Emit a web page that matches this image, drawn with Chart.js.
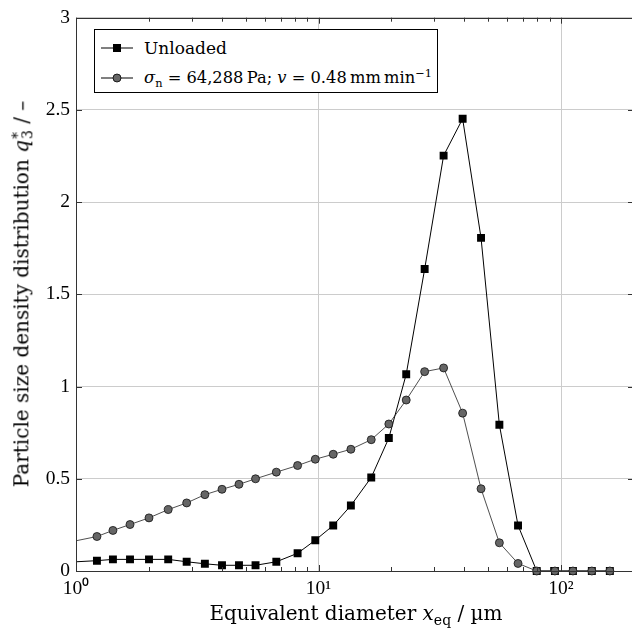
<!DOCTYPE html>
<html>
<head>
<meta charset="utf-8">
<script src="https://cdn.jsdelivr.net/npm/chart.js@4/dist/chart.umd.min.js"></script>
<style>
  body { margin: 0; background: #fff; }
  #wrap { position: relative; width: 632px; height: 632px; overflow: hidden; font-family: "DejaVu Serif", serif; color: #000; }
  #myChart { position: absolute; left: 0; top: 0; }
  .ttl { position: absolute; font-size: 20px; white-space: nowrap; line-height: 1; }
  #xtitle { left: 356px; top: 613px; transform: translate(-50%, -50%); }
  #ytitle { left: 22px; top: 294px; transform: translate(-50%, -50%) rotate(-90deg); }
  .ss { display: inline-block; vertical-align: middle; line-height: 0.7; font-size: 0.7em; margin-left: 1px; text-align: left; }
  .ss span { display: block; }
  sub, sup { font-size: 0.7em; line-height: 0; }
  #legend { position: absolute; left: 94px; top: 29px; width: 342px; height: 62px; border: 1px solid #000; background: #fff; font-size: 17px; }
  .row { position: absolute; left: 0; height: 24px; white-space: nowrap; line-height: 24px; }
  .row svg { position: absolute; left: 5px; top: 6px; }
  .row span.t { position: absolute; left: 49px; top: 0; }
  .row span.t2 { font-size: 16.3px; }
</style>
</head>
<body>
<div id="wrap">
  <canvas id="myChart" width="640" height="632"></canvas>
  <div id="legend">
    <div class="row" style="top:6px">
      <svg width="34" height="12"><line x1="1" y1="6" x2="33" y2="6" stroke="#000" stroke-width="1"/><rect x="13" y="2" width="8" height="8" fill="#000"/></svg>
      <span class="t">Unloaded</span>
    </div>
    <div class="row" style="top:36px">
      <svg width="34" height="12"><line x1="1" y1="6" x2="33" y2="6" stroke="#000" stroke-width="1"/><circle cx="17" cy="6" r="4" fill="#666" stroke="#000" stroke-width="0.8"/></svg>
      <span class="t t2"><i>σ</i><sub>n</sub> = 64,288&thinsp;Pa; <i>v</i> = 0.48&thinsp;mm&thinsp;min<sup>−1</sup></span>
    </div>
  </div>
  <div id="xtitle" class="ttl">Equivalent diameter <i>x</i><sub>eq</sub> / µm</div>
  <div id="ytitle" class="ttl">Particle size density distribution <i>q</i><span class="ss"><span>*</span><span>3</span></span> / –</div>
</div>
<script>
const diameters = [0.85, 1.22, 1.42, 1.67, 2.0, 2.4, 2.86, 3.4, 4.0, 4.7, 5.5, 6.7, 8.2, 9.7, 11.5, 13.6, 16.5, 19.5, 23.0, 27.4, 32.8, 39.3, 46.8, 55.7, 66.5, 79.4, 94.4, 112, 134, 159];
const unloaded = [0.045, 0.056, 0.063, 0.063, 0.063, 0.063, 0.05, 0.039, 0.031, 0.031, 0.031, 0.05, 0.096, 0.167, 0.247, 0.355, 0.507, 0.721, 1.067, 1.637, 2.252, 2.452, 1.806, 0.793, 0.247, 0, 0, 0, 0, 0];
const loaded = [0.145, 0.187, 0.22, 0.252, 0.288, 0.333, 0.369, 0.414, 0.443, 0.47, 0.5, 0.536, 0.572, 0.606, 0.633, 0.66, 0.712, 0.797, 0.927, 1.081, 1.101, 0.856, 0.446, 0.153, 0.041, 0, 0, 0, 0, 0];
const xTicks = [1, 2, 3, 4, 5, 6, 7, 8, 9, 10, 20, 30, 40, 50, 60, 70, 80, 90, 100, 200];
const xMajor = { 1: '10\u2070', 10: '10\u00b9', 100: '10\u00b2' };
const yTicks = [0, 0.5, 1, 1.5, 2, 2.5, 3];

const tickFont = { family: '"Liberation Serif", serif', size: 19.5 };

// frame + inward tick marks like pgfplots
const framePlugin = {
  id: 'frame',
  afterDraw(chart) {
    const { ctx, chartArea: a, scales } = chart;
    ctx.save();
    ctx.strokeStyle = '#333';
    ctx.lineWidth = 1;
    ctx.beginPath();
    xTicks.forEach(v => {
      const px = Math.round(scales.x.getPixelForValue(v)) + 0.5;
      const len = xMajor[v] ? 6 : 4;
      ctx.moveTo(px, a.bottom); ctx.lineTo(px, a.bottom - len);
      ctx.moveTo(px, a.top); ctx.lineTo(px, a.top + len);
    });
    yTicks.forEach(v => {
      const py = Math.round(scales.y.getPixelForValue(v)) + 0.5;
      ctx.moveTo(a.left, py); ctx.lineTo(a.left + 6, py);
      ctx.moveTo(a.right, py); ctx.lineTo(a.right - 6, py);
    });
    ctx.stroke();
    ctx.strokeRect(Math.round(a.left) + 0.5, Math.round(a.top) + 0.5, Math.round(a.right - a.left), Math.round(a.bottom - a.top));
    ctx.restore();
  }
};

const myChart = new Chart(document.getElementById('myChart'), {
  type: 'scatter',
  data: {
    datasets: [{
      label: 'Unloaded',
      data: diameters.map((d, i) => ({ x: d, y: unloaded[i] })),
      showLine: true,
      borderColor: '#000',
      borderWidth: 1,
      pointStyle: 'rect',
      pointRadius: 5.6,
      pointBackgroundColor: '#000',
      pointBorderColor: '#000',
      pointBorderWidth: 0,
      clip: { left: 0, right: 10, top: 10, bottom: 10 },
      order: 2
    }, {
      label: 'σn = 64,288 Pa; v = 0.48 mm min−1',
      data: diameters.map((d, i) => ({ x: d, y: loaded[i] })),
      showLine: true,
      borderColor: '#222',
      borderWidth: 0.8,
      pointStyle: 'circle',
      pointRadius: 4,
      pointBackgroundColor: '#666',
      pointBorderColor: '#111',
      pointBorderWidth: 0.8,
      clip: { left: 0, right: 10, top: 10, bottom: 10 },
      order: 1
    }]
  },
  options: {
    responsive: false,
    animation: false,
    layout: { padding: { top: 15, right: 6, left: 0, bottom: 0 } },
    plugins: { legend: { display: false }, tooltip: { enabled: false } },
    scales: {
      x: {
        type: 'logarithmic',
        min: 1,
        max: 200,
        afterBuildTicks: s => { s.ticks = xTicks.map(v => ({ value: v })); },
        afterFit: s => { s.height = 61; },
        ticks: {
          autoSkip: false,
          maxRotation: 0,
          padding: 6,
          color: '#000',
          font: tickFont,
          callback: v => xMajor[v] || ''
        },
        grid: {
          drawTicks: false,
          color: c => (c.tick && xMajor[c.tick.value]) ? '#cccccc' : 'rgba(0,0,0,0)'
        },
        border: { display: false }
      },
      y: {
        min: 0,
        max: 3,
        afterBuildTicks: s => { s.ticks = yTicks.map(v => ({ value: v })); },
        afterFit: s => { s.width = 76; },
        ticks: { padding: 6, color: '#000', font: tickFont, callback: v => String(v) },
        grid: { drawTicks: false, color: '#cccccc' },
        border: { display: false }
      }
    }
  },
  plugins: [framePlugin]
});
</script>
</body>
</html>
